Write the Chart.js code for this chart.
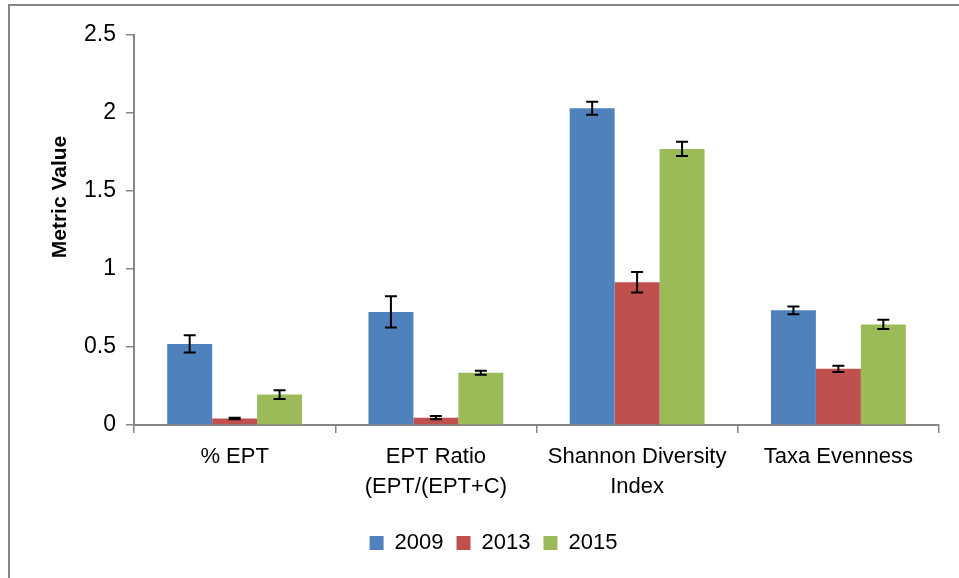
<!DOCTYPE html>
<html>
<head>
<meta charset="utf-8">
<script src="https://cdn.jsdelivr.net/npm/chart.js@4.4.0/dist/chart.umd.min.js"></script>
<style>
  html, body { margin: 0; padding: 0; background: #fff; }
  #wrap { position: relative; width: 959px; height: 578px; overflow: hidden; }
  #frame { position: absolute; left: 8px; top: 4px; width: 1000px; height: 700px;
           border-left: 2px solid #878787; border-top: 2px solid #878787; }
  canvas { position: absolute; left: 0; top: 0; }
</style>
</head>
<body>
<div id="wrap">
  <div id="frame"></div>
  <canvas id="metricChart" width="959" height="578"></canvas>
</div>
<script>
// metric categories (x axis)
var categories = [
  '% EPT',
  ['EPT Ratio', '(EPT/(EPT+C)'],
  ['Shannon Diversity', 'Index'],
  'Taxa Evenness'
];
var years = ['2009', '2013', '2015'];

// mean values per year
var values2009 = [0.52, 0.725, 2.03, 0.735];
var values2013 = [0.042, 0.047, 0.915, 0.36];
var values2015 = [0.195, 0.335, 1.77, 0.645];

// error bar half-lengths
var err2009 = [0.055, 0.10, 0.042, 0.025];
var err2013 = [0.005, 0.01, 0.065, 0.02];
var err2015 = [0.028, 0.013, 0.046, 0.03];

var yTicks = [0, 0.5, 1, 1.5, 2, 2.5];

var colors = ['#4F81BD', '#C0504D', '#9BBB59'];
var FONT = '"Liberation Sans", Arial, sans-serif';

var errorBars = {
  id: 'errorBars',
  afterDatasetsDraw: function(chart) {
    var ctx = chart.ctx;
    var yScale = chart.scales.y;
    ctx.save();
    ctx.strokeStyle = '#000';
    ctx.lineWidth = 2;
    chart.data.datasets.forEach(function(ds, i) {
      var meta = chart.getDatasetMeta(i);
      meta.data.forEach(function(bar, j) {
        var v = ds.data[j], e = ds.errors[j];
        var top = yScale.getPixelForValue(v + e);
        var bot = yScale.getPixelForValue(v - e);
        var x = bar.x;
        ctx.beginPath();
        ctx.moveTo(x, top); ctx.lineTo(x, bot);
        ctx.moveTo(x - 6, top); ctx.lineTo(x + 6, top);
        ctx.moveTo(x - 6, bot); ctx.lineTo(x + 6, bot);
        ctx.stroke();
      });
    });
    ctx.restore();
  }
};

// y axis title, placed where the original has it
var yTitle = {
  id: 'yTitle',
  afterDraw: function(chart) {
    var ctx = chart.ctx;
    ctx.save();
    ctx.translate(60, 197);
    ctx.rotate(-Math.PI / 2);
    ctx.font = 'bold 21px ' + FONT;
    ctx.fillStyle = '#000';
    ctx.textAlign = 'center';
    ctx.textBaseline = 'middle';
    ctx.fillText('Metric Value', 0, 0);
    ctx.restore();
  }
};

// legend sits a bit right of centre in the original
var shiftLegend = {
  id: 'shiftLegend',
  afterLayout: function(chart) {
    chart.legend.left += 24;
    chart.legend.right += 24;
  }
};

var ctx = document.getElementById('metricChart').getContext('2d');
var chart = new Chart(ctx, {
  type: 'bar',
  data: {
    labels: categories,
    datasets: [
      { label: years[0], data: values2009, errors: err2009, backgroundColor: colors[0] },
      { label: years[1], data: values2013, errors: err2013, backgroundColor: colors[1] },
      { label: years[2], data: values2015, errors: err2015, backgroundColor: colors[2] }
    ]
  },
  options: {
    responsive: false,
    animation: false,
    layout: { padding: { top: 35, right: 20, left: 0, bottom: 14 } },
    datasets: { bar: { categoryPercentage: 0.67, barPercentage: 1.0 } },
    plugins: {
      legend: {
        position: 'bottom',
        labels: {
          boxWidth: 14, boxHeight: 14, padding: 13,
          color: '#000',
          font: { family: FONT, size: 22 }
        }
      },
      tooltip: { enabled: false }
    },
    scales: {
      x: {
        afterFit: function(scale) { scale.height = 94; },
        grid: { display: true, drawOnChartArea: false, drawTicks: true, tickLength: 8, color: '#868686', lineWidth: 1.5 },
        border: { color: '#868686', width: 2 },
        ticks: { color: '#000', padding: 9, font: { family: FONT, size: 22, lineHeight: 1.36 }, maxRotation: 0, autoSkip: false }
      },
      y: {
        min: 0, max: 2.5,
        afterBuildTicks: function(scale) { scale.ticks = yTicks.map(function(v) { return { value: v }; }); },
        afterFit: function(scale) { scale.width = 134; },
        grid: { display: true, drawOnChartArea: false, drawTicks: true, tickLength: 8, color: '#868686', lineWidth: 1.5 },
        border: { color: '#868686', width: 2 },
        ticks: { color: '#000', padding: 10, font: { family: FONT, size: 23 }, callback: function(v) { return String(v); } }
      }
    }
  },
  plugins: [errorBars, yTitle, shiftLegend]
});
</script>
</body>
</html>
